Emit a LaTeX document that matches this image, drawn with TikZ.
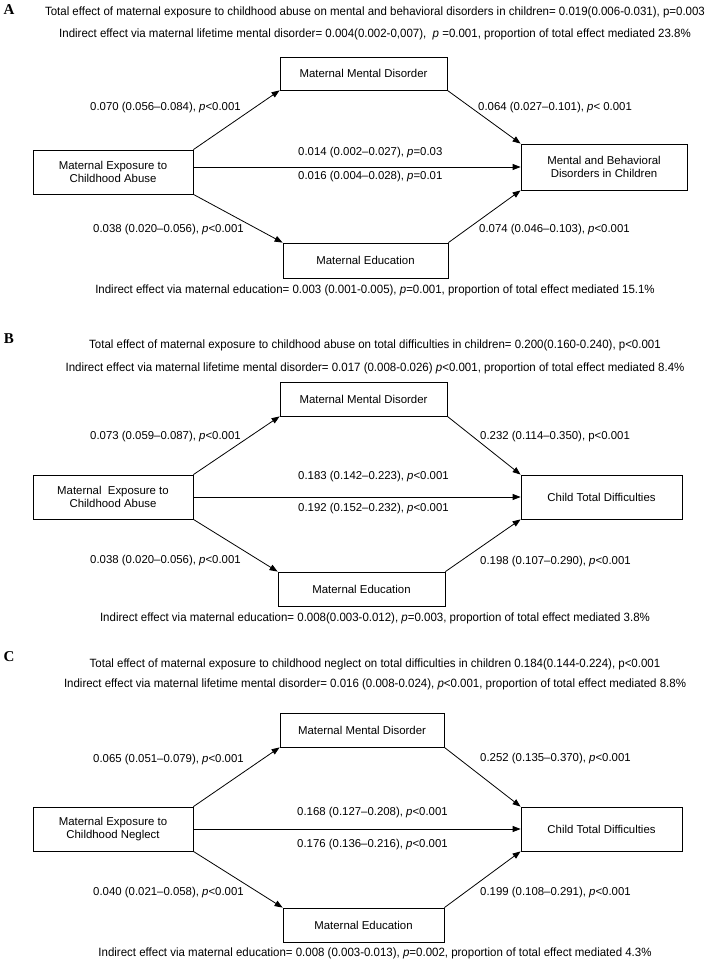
\documentclass[tikz,border=0pt]{standalone}
\usepackage{fontspec}
\setmainfont{Liberation Sans}
\newfontfamily\hdrfamily[FakeStretch=0.957]{Liberation Sans}
\newfontfamily\letterfamily{Liberation Serif}
\usetikzlibrary{arrows.meta}
\newcommand{\boxfont}{\fontsize{11.4}{13.2}\selectfont}
\newcommand{\labfont}{\fontsize{11.4}{13}\selectfont}
\newcommand{\hdrfont}{\hdrfamily\fontsize{12}{13}\selectfont}
\newcommand{\letfont}{\letterfamily\bfseries\fontsize{15}{15}\selectfont}
\newcommand{\ip}{\textit{p}}
\tikzset{
  x=1pt, y=-1pt,
  box/.style={draw, line width=0.8pt, align=center, font=\boxfont, inner sep=0pt},
  lab/.style={font=\labfont, inner sep=0pt, anchor=west},
  hdr/.style={font=\hdrfont, inner sep=0pt},
  let/.style={font=\letfont, inner sep=0pt},
  arr/.style={line width=0.8pt, -{Triangle[length=8pt,width=6pt]}}
}
\begin{document}
\begin{tikzpicture}
\useasboundingbox (0,0) rectangle (709,963);
\fill[white] (0,0) rectangle (709,963);
% ================= Panel A =================
\node[let] (letA) at (9,10) {A};
\node[hdr] (hA1) at (375,12) {Total effect of maternal exposure to childhood abuse on mental and behavioral disorders in children= 0.019(0.006-0.031), p=0.003};
\node[hdr] (hA2) at (375,34) {Indirect effect via maternal lifetime mental disorder= 0.004(0.002-0,007),\ \ \ip\ =0.001, proportion of total effect mediated 23.8\%};
\node[box, minimum width=160pt, minimum height=44pt] (exA) at (113,172) {Maternal Exposure to\\Childhood Abuse};
\node[box, minimum width=167pt, minimum height=33pt] (mmdA) at (363.5,73.5) {Maternal Mental Disorder};
\node[box, minimum width=165pt, minimum height=35pt] (meA) at (365.5,260.5) {Maternal Education};
\node[box, minimum width=166pt, minimum height=46pt] (outA) at (604,167) {Mental and Behavioral\\Disorders in Children};
\draw[arr] (exA.north east) -- (mmdA.south west);
\draw[arr] (exA.south east) -- (meA.north west);
\draw[arr] (exA.east |- outA.west) -- (outA.west);
\draw[arr] (mmdA.south east) -- (outA.north west);
\draw[arr] (meA.north east) -- (outA.south west);
\node[lab] (aL1) at (90,108) {0.070 (0.056–0.084), \ip<0.001};
\node[lab] (aL2) at (93,230) {0.038 (0.020–0.056), \ip<0.001};
\node[lab] (aM1) at (298,153) {0.014 (0.002–0.027), \ip=0.03};
\node[lab] (aM2) at (298,177) {0.016 (0.004–0.028), \ip=0.01};
\node[lab] (aR1) at (478,108) {0.064 (0.027–0.101), \ip< 0.001};
\node[lab] (aR2) at (479,230) {0.074 (0.046–0.103), \ip<0.001};
\node[hdr] (aB) at (375,290) {Indirect effect via maternal education= 0.003 (0.001-0.005), \ip=0.001, proportion of total effect mediated 15.1\%};
% ================= Panel B =================
\node[let] (letB) at (9,339) {B};
\node[hdr] (hB1) at (375,345) {Total effect of maternal exposure to childhood abuse on total difficulties in children= 0.200(0.160-0.240), p<0.001};
\node[hdr] (hB2) at (375,368) {Indirect effect via maternal lifetime mental disorder= 0.017 (0.008-0.026) \ip<0.001, proportion of total effect mediated 8.4\%};
\node[box, minimum width=160pt, minimum height=44pt] (exB) at (113,497) {Maternal\ \ Exposure to\\Childhood Abuse};
\node[box, minimum width=167pt, minimum height=34pt] (mmdB) at (363.5,399) {Maternal Mental Disorder};
\node[box, minimum width=167pt, minimum height=34pt] (meB) at (361.5,589) {Maternal Education};
\node[box, minimum width=161pt, minimum height=44pt] (outB) at (601.5,497) {Child Total Difficulties};
\draw[arr] (exB.north east) -- (mmdB.south west);
\draw[arr] (exB.south east) -- (meB.north west);
\draw[arr] (exB.east |- outB.west) -- (outB.west);
\draw[arr] (mmdB.south east) -- (outB.north west);
\draw[arr] (meB.north east) -- (outB.south west);
\node[lab] (bL1) at (90,437) {0.073 (0.059–0.087), \ip<0.001};
\node[lab] (bL2) at (90,561) {0.038 (0.020–0.056), \ip<0.001};
\node[lab] (bM1) at (298,477) {0.183 (0.142–0.223), \ip<0.001};
\node[lab] (bM2) at (298,509) {0.192 (0.152–0.232), \ip<0.001};
\node[lab] (bR1) at (480,437) {0.232 (0.114–0.350), p<0.001};
\node[lab] (bR2) at (480,562) {0.198 (0.107–0.290), \ip<0.001};
\node[hdr] (bB) at (375,618) {Indirect effect via maternal education= 0.008(0.003-0.012), \ip=0.003, proportion of total effect mediated 3.8\%};
% ================= Panel C =================
\node[let] (letC) at (9,657) {C};
\node[hdr] (hC1) at (375,664) {Total effect of maternal exposure to childhood neglect on total difficulties in children 0.184(0.144-0.224), p<0.001};
\node[hdr] (hC2) at (375,684) {Indirect effect via maternal lifetime mental disorder= 0.016 (0.008-0.024), \ip<0.001, proportion of total effect mediated 8.8\%};
\node[box, minimum width=160pt, minimum height=44pt] (exC) at (113,829) {Maternal Exposure to\\Childhood Neglect};
\node[box, minimum width=164pt, minimum height=34pt] (mmdC) at (362,730) {Maternal Mental Disorder};
\node[box, minimum width=161pt, minimum height=34pt] (meC) at (363.5,925) {Maternal Education};
\node[box, minimum width=161pt, minimum height=44pt] (outC) at (601.5,829) {Child Total Difficulties};
\draw[arr] (exC.north east) -- (mmdC.south west);
\draw[arr] (exC.south east) -- (meC.north west);
\draw[arr] (exC.east |- outC.west) -- (outC.west);
\draw[arr] (mmdC.south east) -- (outC.north west);
\draw[arr] (meC.north east) -- (outC.south west);
\node[lab] (cL1) at (93,760) {0.065 (0.051–0.079), \ip<0.001};
\node[lab] (cL2) at (93,893) {0.040 (0.021–0.058), \ip<0.001};
\node[lab] (cM1) at (297,813) {0.168 (0.127–0.208), \ip<0.001};
\node[lab] (cM2) at (297,845) {0.176 (0.136–0.216), \ip<0.001};
\node[lab] (cR1) at (480,759) {0.252 (0.135–0.370), \ip<0.001};
\node[lab] (cR2) at (480,893) {0.199 (0.108–0.291), \ip<0.001};
\node[hdr] (cB) at (375,953) {Indirect effect via maternal education= 0.008 (0.003-0.013), \ip=0.002, proportion of total effect mediated 4.3\%};
\end{tikzpicture}
\end{document}
